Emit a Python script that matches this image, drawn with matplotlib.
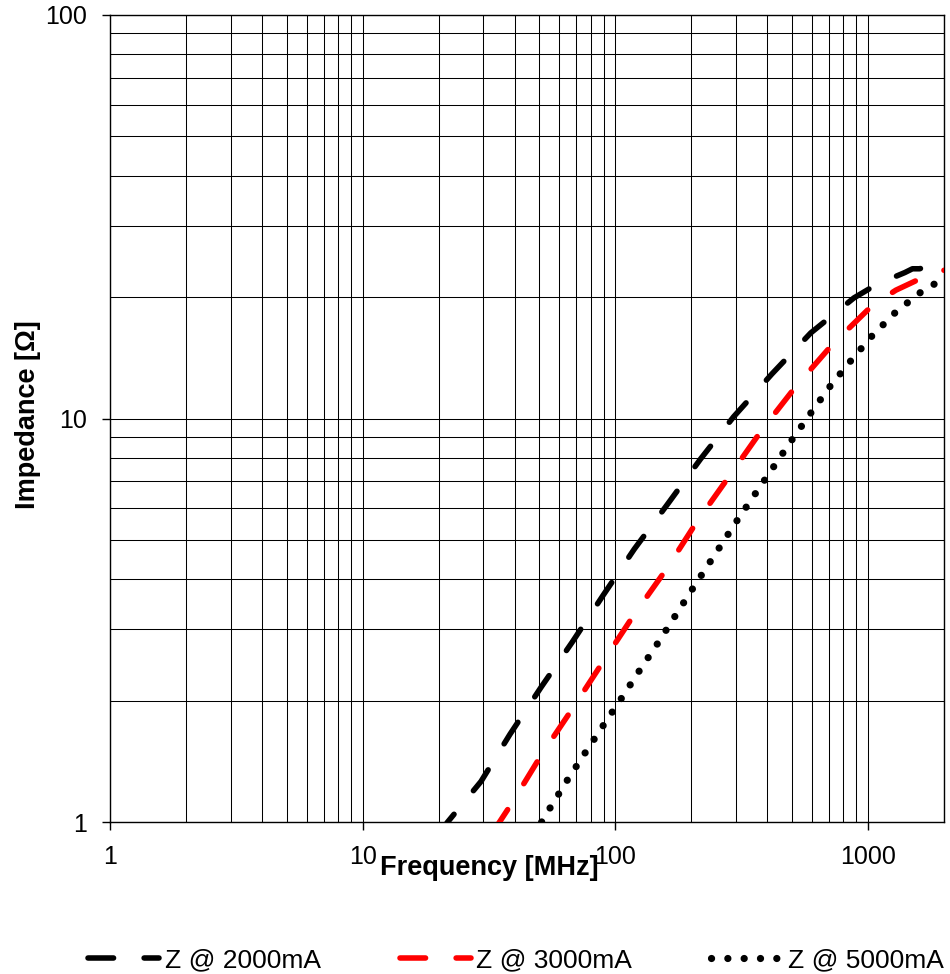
import matplotlib

matplotlib.use('Agg')
import matplotlib.pyplot as plt
from matplotlib.ticker import FixedLocator, FixedFormatter, LogLocator, NullFormatter

plt.rcParams['font.family'] = ['Liberation Sans', 'DejaVu Sans']

# impedance curves (frequency MHz, impedance ohm)
f_2000 = [20, 21.7, 29.4, 38.3, 50.9, 67.5, 89.6, 119, 160, 217.6, 294, 417,
          594, 880, 1084, 1400, 1500, 1600, 1720, 2000]
z_2000 = [0.93, 1.0, 1.26, 1.65, 2.16, 2.79, 3.65, 4.75, 6.1, 7.94, 10.1, 12.9,
          16.3, 19.9, 21.5, 23.0, 23.5, 23.5, 23.8, 23.6]

f_3000 = [33, 39.2, 51.1, 67.7, 89.6, 118.5, 159.6, 210, 281, 380, 518, 726,
          1044, 1290, 1634, 2000]
z_3000 = [0.95, 1.12, 1.47, 1.91, 2.50, 3.26, 4.24, 5.54, 7.16, 9.36, 12.0, 15.3,
          19.1, 20.8, 22.3, 23.3]

f_5000 = [51.1, 55.5, 65.1, 76.3, 89.9, 106, 124.5, 146.5, 172, 202, 303, 390,
          500, 593, 707, 847, 1026, 1270, 1589, 1802, 2000]
z_5000 = [1.0, 1.09, 1.28, 1.49, 1.74, 2.03, 2.37, 2.76, 3.23, 3.78, 5.58, 7.04,
          8.85, 10.3, 12.0, 13.8, 15.9, 18.2, 20.4, 21.4, 22.3]

x_ticks = [1, 10, 100, 1000]
x_tick_labels = ['1', '10', '100', '1000']
y_ticks = [1, 10, 100]
y_tick_labels = ['1', '10', '100']

fig = plt.figure(figsize=(9.5, 9.74), dpi=100)
ax = fig.add_axes([110 / 950, 152 / 974, 834 / 950, 807 / 974])

ax.plot(f_2000, z_2000, color='black', linewidth=4.0, dashes=(4.6, 5.5),
        dash_capstyle='round', label='Z @ 2000mA', zorder=3)
ax.plot(f_3000, z_3000, color='#ff0000', linewidth=4.0, dashes=(4.6, 5.5),
        dash_capstyle='round', label='Z @ 3000mA', zorder=3)
ax.plot(f_5000, z_5000, color='black', linewidth=5.2, dashes=(0.01, 2.25),
        dash_capstyle='round', label='Z @ 5000mA', zorder=3)

ax.set_xscale('log')
ax.set_yscale('log')
ax.set_xlim(1, 2000)
ax.set_ylim(1, 100)

ax.xaxis.set_major_locator(FixedLocator(x_ticks))
ax.xaxis.set_major_formatter(FixedFormatter(x_tick_labels))
ax.yaxis.set_major_locator(FixedLocator(y_ticks))
ax.yaxis.set_major_formatter(FixedFormatter(y_tick_labels))
for axis in (ax.xaxis, ax.yaxis):
    axis.set_minor_locator(LogLocator(base=10, subs=range(2, 10)))
    axis.set_minor_formatter(NullFormatter())

ax.grid(True, which='both', color='black', linewidth=0.75)
ax.tick_params(which='major', direction='out', length=5.5, width=1,
               pad=11, labelsize=18, colors='black')
ax.tick_params(which='minor', length=0)
for sp in ax.spines.values():
    sp.set_color('black')
    sp.set_linewidth(1)

fig.text(489 / 950, 1 - 868 / 974, 'Frequency [MHz]', fontsize=19.5,
         fontweight='bold', ha='center', va='center')
fig.text(28 / 950, 1 - 415 / 974, 'Impedance [Ω]', fontsize=19.5,
         fontweight='bold', rotation=90, ha='center', va='center')

fig.legend(loc='center', bbox_to_anchor=(516 / 950, 14 / 974), ncol=3,
           frameon=False, fontsize=19, handlelength=2.7, handletextpad=0.2,
           columnspacing=3.0, borderaxespad=0, borderpad=0)

fig.savefig('out.png', dpi=100)
